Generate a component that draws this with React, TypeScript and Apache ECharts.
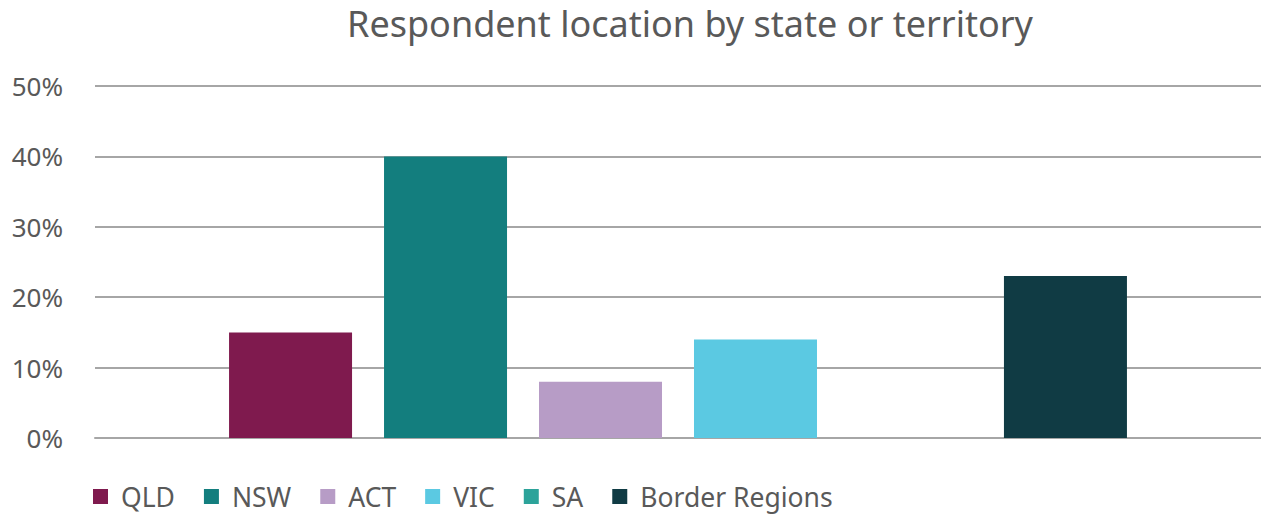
import React, { useEffect, useRef } from "react";
import * as echarts from "echarts";

const categories = [""];
const seriesNames = ["QLD", "NSW", "ACT", "VIC", "SA", "Border Regions"];
const seriesValues = [15, 40, 8, 14, 0, 23];
const seriesColors = ["#7F1A4E", "#137E7E", "#B79CC6", "#5BC9E2", "#2CA39A", "#103B44"];
const yTicks = { min: 0, max: 50, interval: 10 };

const FONT = "'Noto Sans', 'Open Sans', sans-serif";

export default function App() {
  const ref = useRef<HTMLDivElement>(null);
  useEffect(() => {
    document.body.style.margin = "0";
    const chart = echarts.init(ref.current!, null, { renderer: "svg" });
    chart.setOption({
      animation: false,
      textStyle: { fontFamily: FONT },
      title: {
        text: "Respondent location by state or territory",
        left: 685,
        top: 0,
        textAlign: "center",
        textStyle: { fontFamily: FONT, fontSize: 36, fontWeight: "normal", color: "#595959" },
      },
      legend: {
        left: 88,
        top: 478,
        itemWidth: 15,
        itemHeight: 15,
        itemGap: 29,
        icon: "rect",
        data: seriesNames,
        textStyle: { fontFamily: FONT, fontSize: 26.5, color: "#595959", padding: [0, 0, 0, 8] },
      },
      grid: { left: 95, right: 0, top: 86, bottom: 77 },
      xAxis: {
        type: "category",
        data: categories,
        axisLine: { show: true, lineStyle: { color: "#A6A6A6", width: 2 } },
        axisTick: { show: false },
        axisLabel: { show: false },
      },
      yAxis: {
        type: "value",
        min: yTicks.min,
        max: yTicks.max,
        interval: yTicks.interval,
        axisLine: { show: false },
        axisTick: { show: false },
        axisLabel: {
          formatter: "{value}%",
          fontFamily: FONT,
          fontSize: 26,
          color: "#595959",
          margin: 32,
        },
        splitLine: { lineStyle: { color: "#A6A6A6", width: 2 } },
      },
      series: seriesNames.map((name, i) => ({
        name,
        type: "bar",
        barWidth: 123,
        barGap: "26%",
        itemStyle: { color: seriesColors[i] },
        data: [seriesValues[i]],
      })),
    });
    return () => chart.dispose();
  }, []);
  return <div ref={ref} style={{ width: 1261, height: 515 }} />;
}
